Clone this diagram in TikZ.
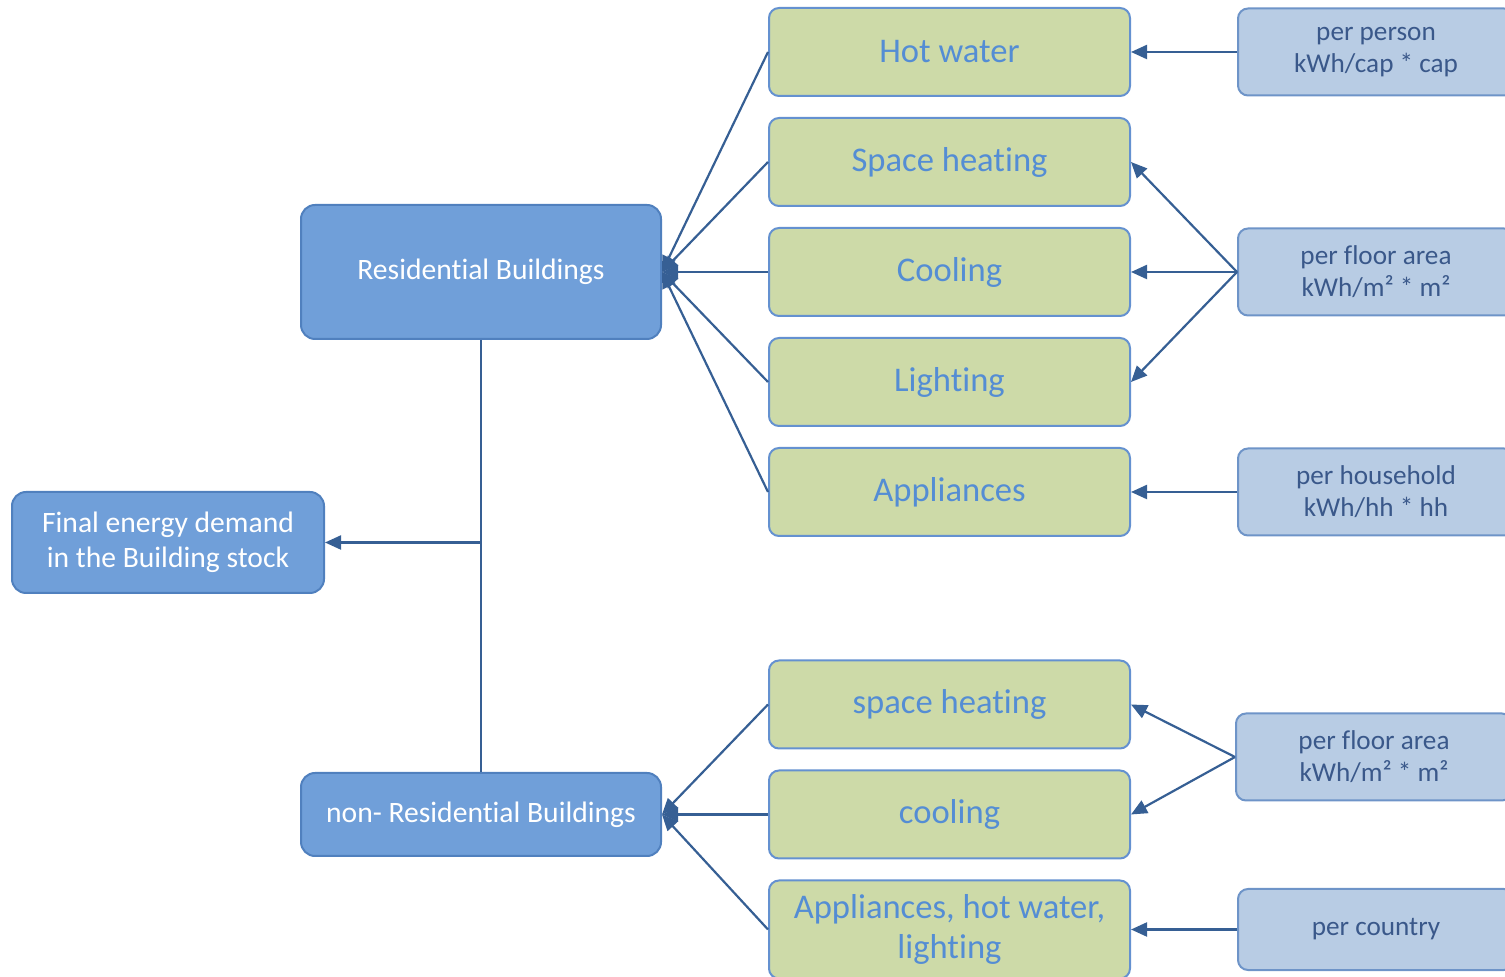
\documentclass[tikz,border=0pt]{standalone}
\usepackage{fontspec}
\setmainfont{Carlito}[Ligatures=CommonOff]
\usetikzlibrary{positioning,arrows.meta}

\definecolor{mainfill}{RGB}{112,159,217}
\definecolor{mainline}{RGB}{80,128,190}
\definecolor{usefill}{RGB}{205,218,168}
\definecolor{useline}{RGB}{100,145,208}
\definecolor{usetext}{RGB}{84,141,212}
\definecolor{unitfill}{RGB}{184,204,228}
\definecolor{unitline}{RGB}{110,148,200}
\definecolor{unittext}{RGB}{58,88,138}
\definecolor{arrcol}{RGB}{54,95,148}

\begin{document}
\begin{tikzpicture}[
  x=0.5pt, y=-0.5pt,
  mainbox/.style={draw=mainline, fill=mainfill, line width=1pt, rounded corners=7pt,
    text=white, align=center, font=\fontsize{14.8}{17.5}\selectfont, minimum width=180pt},
  usebox/.style={draw=useline, fill=usefill, line width=1pt, rounded corners=5pt,
    text=usetext, align=center, font=\fontsize{17.3}{20}\selectfont,
    minimum width=180.5pt, minimum height=44pt},
  unitbox/.style={draw=unitline, fill=unitfill, line width=1pt, rounded corners=5pt,
    text=unittext, align=center, font=\fontsize{13.6}{16}\selectfont,
    minimum width=138pt, minimum height=43.5pt},
  arr/.style={-{Triangle[length=8pt, width=7pt]}, line width=1.1pt, draw=arrcol},
  link/.style={line width=1.1pt, draw=arrcol},
  node distance=10pt and 53pt]
\clip (0,0) rectangle (1505,977);
% residential end uses
\node[usebox] (hot) at (949.5,52) {Hot water};
\node[usebox, below=of hot] (sheat) {Space heating};
\node[usebox, below=of sheat] (cool) {Cooling};
\node[usebox, below=of cool] (light) {Lighting};
\node[usebox, below=of light] (app) {Appliances};
% non-residential end uses
\node[usebox] (nrsheat) at (949.5,704.5) {space heating};
\node[usebox, below=of nrsheat] (nrcool) {cooling};
\node[usebox, below=of nrcool, minimum height=49pt] (nrapp) {Appliances, hot water,\\lighting};
% drivers
\node[unitbox, right=of hot] (pers) {per person\\kWh/cap * cap};
\node[unitbox, right=of cool] (area) {per floor area\\kWh/m² * m²};
\node[unitbox, right=of app] (hh) {per household\\kWh/hh * hh};
\node[unitbox] (nrarea) at (1374,757) {per floor area\\kWh/m² * m²};
\node[unitbox, right=of nrapp, minimum height=40.5pt] (ctry) {per country};
% building types
\node[mainbox, left=of cool, minimum height=67pt] (res) {Residential Buildings};
\node[mainbox, left=of nrcool, minimum height=41.5pt] (nonres) {non- Residential Buildings};
\node[mainbox, minimum width=156pt, minimum height=50.5pt] (final) at (168,542.5) {Final energy demand\\in the Building stock};
\coordinate (join) at (res.south |- final.east);

\draw[link] (res.south) -- (nonres.north);
\draw[arr] (join) -- (final.east);
\foreach \u in {hot,sheat,cool,light,app}
  \draw[arr] (\u.west) -- (res.east);
\foreach \u in {nrsheat,nrcool,nrapp}
  \draw[arr] (\u.west) -- (nonres.east);
\draw[arr] (pers.west) -- (hot.east);
\foreach \u in {sheat,cool,light}
  \draw[arr] (area.west) -- (\u.east);
\draw[arr] (hh.west) -- (app.east);
\draw[arr] (nrarea.west) -- (nrsheat.east);
\draw[arr] (nrarea.west) -- (nrcool.east);
\draw[arr] (ctry.west) -- (nrapp.east);
\end{tikzpicture}
\end{document}
